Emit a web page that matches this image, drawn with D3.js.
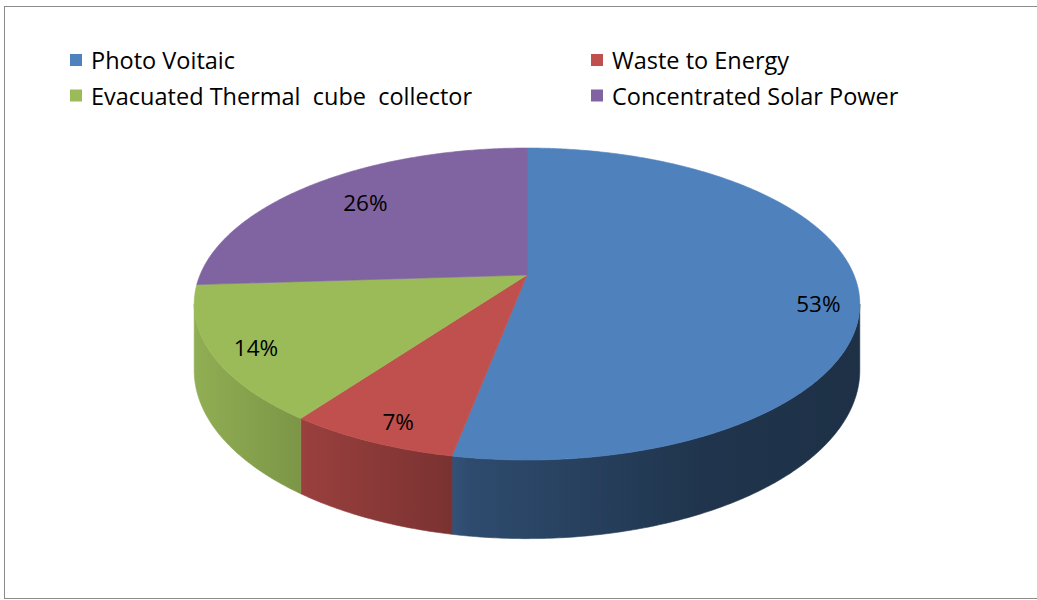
<!DOCTYPE html>
<html>
<head>
<meta charset="utf-8">
<script src="https://cdn.jsdelivr.net/npm/d3@7"></script>
<style>
  body { margin: 0; background: #fff; }
  svg { display: block; }
  text { font-family: "Open Sans", "Noto Sans", sans-serif; fill: #000; white-space: pre; }
</style>
</head>
<body>
<script>
// Solar / renewable technology shares
const categories = ["Photo Voitaic", "Waste to Energy", "Evacuated Thermal  cube  collector", "Concentrated Solar Power"];
const shares = [53, 7, 14, 26];
const shareLabels = ["53%", "7%", "14%", "26%"];
const colors = ["#4F81BD", "#C0504D", "#9BBB59", "#8064A2"];

const W = 1037, H = 600;
const svg = d3.select("body").append("svg").attr("width", W).attr("height", H);

// chart frame
svg.append("rect")
  .attr("x", 4.5).attr("y", 6.5).attr("width", 1040).attr("height", 592)
  .attr("fill", "none").attr("stroke", "#8a8a8a").attr("stroke-width", 1);

// ---- 3D pie: perspective projection of a tilted disc ----
const cx = 527, cy = 275;          // screen position of the disc centre
const RX = 327, RY = 150.6;        // horizontal / vertical radius scale
const K = 0.186;                   // perspective strength (near side larger)
const DEPTH = 64;                  // thickness of the disc

function project(theta, r, z) {
  const u = r * Math.sin(theta);
  const v = -r * Math.cos(theta);  // v > 0 towards the viewer
  const w = 1 - K * v;
  return [cx + RX * u / w, cy + (RY * v + DEPTH * z) / w];
}

const pie = d3.pie().sort(null).value(d => d);
const arcs = pie(shares);

// side wall is visible where the rim faces the viewer
const visStart = Math.acos(-K), visEnd = 2 * Math.PI - Math.acos(-K);

function arcPoints(a0, a1, r, z) {
  const n = Math.max(2, Math.ceil(Math.abs(a1 - a0) / 0.01));
  return d3.range(n + 1).map(i => project(a0 + (a1 - a0) * i / n, r, z));
}

const line = d3.line();

// horizontal shading of the rim (lighter on the left, darker to the right)
const shadeStops = [[195, 0.93], [300, 0.80], [455, 0.63], [470, 0.58], [700, 0.41], [862, 0.37]];
const defs = svg.append("defs");
arcs.forEach((a, i) => {
  const g = defs.append("linearGradient")
    .attr("id", "rim" + i)
    .attr("gradientUnits", "userSpaceOnUse")
    .attr("x1", shadeStops[0][0]).attr("x2", shadeStops[shadeStops.length - 1][0])
    .attr("y1", 0).attr("y2", 0);
  const base = d3.rgb(colors[i]);
  const span = shadeStops[shadeStops.length - 1][0] - shadeStops[0][0];
  shadeStops.forEach(([x, f]) => {
    g.append("stop")
      .attr("offset", (x - shadeStops[0][0]) / span)
      .attr("stop-color", d3.rgb(base.r * f, base.g * f, base.b * f).formatHex());
  });
});

// rim walls
const walls = svg.append("g");
arcs.forEach((a, i) => {
  const s = Math.max(a.startAngle, visStart), e = Math.min(a.endAngle, visEnd);
  if (e <= s) return;
  const top = arcPoints(s, e, 1, 0);
  const bottom = arcPoints(e, s, 1, 1);
  walls.append("path")
    .attr("d", line(top.concat(bottom)) + "Z")
    .attr("fill", `url(#rim${i})`)
    .attr("stroke", `url(#rim${i})`)
    .attr("stroke-width", 0.6);
});

// top faces
const faces = svg.append("g");
arcs.forEach((a, i) => {
  const pts = [project(0, 0, 0)].concat(arcPoints(a.startAngle, a.endAngle, 1, 0));
  faces.append("path")
    .attr("d", line(pts) + "Z")
    .attr("fill", colors[i])
    .attr("stroke", colors[i])
    .attr("stroke-width", 0.6);
});

// data labels: placed on the top face around each slice's mid angle
const labelPlace = [{ r: 0.88, dt: 6.6 }, { r: 0.89, dt: -1.4 }, { r: 0.88, dt: -1.4 }, { r: 0.76, dt: 1.2 }];
arcs.forEach((a, i) => {
  const mid = (a.startAngle + a.endAngle) / 2 + labelPlace[i].dt * Math.PI / 180;
  const [x, y] = project(mid, labelPlace[i].r, 0);
  svg.append("text")
    .attr("x", x).attr("y", y)
    .attr("text-anchor", "middle")
    .attr("dominant-baseline", "central")
    .attr("font-size", 22.5)
    .text(shareLabels[i]);
});

// legend: two columns, two rows
const legendCols = [70, 591], legendRows = [60, 95.5];
const legend = svg.append("g");
categories.forEach((c, i) => {
  const x = legendCols[i % 2], y = legendRows[Math.floor(i / 2)];
  legend.append("rect")
    .attr("x", x).attr("y", y - 6).attr("width", 12).attr("height", 12)
    .attr("fill", colors[i]);
  legend.append("text")
    .attr("x", x + 21).attr("y", y)
    .attr("dominant-baseline", "central")
    .attr("font-size", 23.5)
    .text(c);
});
</script>
</body>
</html>
